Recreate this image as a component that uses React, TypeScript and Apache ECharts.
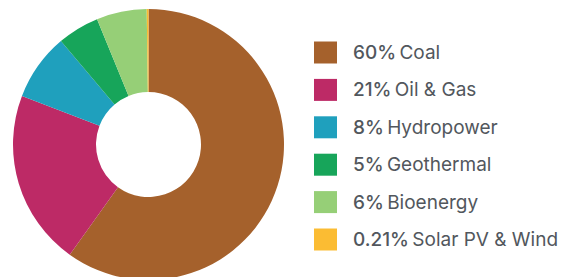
import React, { useEffect, useRef } from "react";
import * as echarts from "echarts";

const categories = ["Coal", "Oil & Gas", "Hydropower", "Geothermal", "Bioenergy", "Solar PV & Wind"];
const values = [60, 21, 8, 5, 6, 0.21];
const percentLabels = ["60%", "21%", "8%", "5%", "6%", "0.21%"];
const colors = ["#a5612c", "#bd2a66", "#1fa0bd", "#17a55a", "#96cf77", "#fbbc33"];

export default function App() {
  const ref = useRef<HTMLDivElement>(null);
  useEffect(() => {
    if (!ref.current) return;
    const chart = echarts.init(ref.current, null, { renderer: "svg" });
    chart.setOption({
      animation: false,
      color: colors,
      legend: {
        orient: "vertical",
        left: 314,
        top: 41.5,
        padding: 0,
        itemWidth: 23,
        itemHeight: 22,
        itemGap: 15.4,
        icon: "rect",
        selectedMode: false,
        formatter: (name: string) => {
          const i = categories.indexOf(name);
          return `{p|${percentLabels[i]}} {n|${name}}`;
        },
        textStyle: {
          padding: [0, 0, 0, 11],
          rich: {
            p: { fontFamily: "Inter", fontSize: 19, fontWeight: 500, color: "#52575d" },
            n: { fontFamily: "Inter", fontSize: 19, fontWeight: 400, color: "#52575d" },
          },
        },
        data: categories,
      },
      series: [
        {
          type: "pie",
          center: [148.5, 144.5],
          radius: [52.5, 135.5],
          startAngle: 90,
          clockwise: true,
          silent: true,
          label: { show: false },
          labelLine: { show: false },
          itemStyle: { borderWidth: 0 },
          data: categories.map((c, i) => ({ name: c, value: values[i] })),
        },
      ],
    });
    return () => chart.dispose();
  }, []);
  return <div ref={ref} style={{ position: "absolute", left: 0, top: 0, width: 577, height: 277 }} />;
}
